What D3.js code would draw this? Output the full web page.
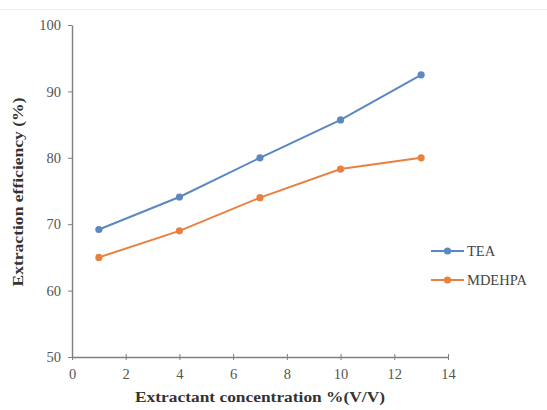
<!DOCTYPE html>
<html><head><meta charset="utf-8">
<script src="https://cdn.jsdelivr.net/npm/d3@7"></script>
<style>body{margin:0;background:#fff}svg{display:block}</style>
</head><body>
<script>
const xValues = [1, 4, 7, 10, 13];
const teaValues = [69.2, 74.1, 80.0, 85.7, 92.5];
const mdehpaValues = [65.0, 69.0, 74.0, 78.3, 80.0];
const seriesNames = ["TEA", "MDEHPA"];
const xTicks = [0, 2, 4, 6, 8, 10, 12, 14];
const yTicks = [50, 60, 70, 80, 90, 100];

const W = 547, H = 410;
const svg = d3.select("body").append("svg").attr("width", W).attr("height", H);
svg.append("line").attr("x1",0).attr("x2",W).attr("y1",9.5).attr("y2",9.5).attr("stroke","#efefef");

const x = d3.scaleLinear().domain([0,14]).range([72,448]);
const y = d3.scaleLinear().domain([50,100]).range([357,25]);
const font = "'Liberation Serif', 'Times New Roman', serif";

const xa = svg.append("g").attr("transform","translate(0,357)")
  .call(d3.axisBottom(x).tickValues(xTicks).tickSize(3).tickSizeOuter(0).tickPadding(9));
const ya = svg.append("g").attr("transform","translate(72,0)")
  .call(d3.axisLeft(y).tickValues(yTicks).tickSize(4).tickSizeOuter(0).tickPadding(7));
[xa, ya].forEach(a => {
  a.select(".domain").attr("stroke","#7f7f7f").attr("stroke-width",1.4);
  a.selectAll(".tick line").attr("stroke","#7f7f7f");
  a.selectAll(".tick text").attr("fill","#555").style("font-family",font).style("font-size","14.5px");
});
xa.selectAll(".tick line").attr("y1",-3);

svg.append("text").attr("x",260).attr("y",402).attr("text-anchor","middle")
  .attr("textLength",250).attr("lengthAdjust","spacingAndGlyphs")
  .style("font-family",font).style("font-size","14.5px").style("font-weight","bold").attr("fill","#333")
  .text("Extractant concentration %(V/V)");
svg.append("text").attr("transform","translate(23,192) rotate(-90)").attr("text-anchor","middle")
  .attr("textLength",189).attr("lengthAdjust","spacingAndGlyphs")
  .style("font-family",font).style("font-size","14.5px").style("font-weight","bold").attr("fill","#333")
  .text("Extraction efficiency (%)");

const colors = ["#5b87c3", "#e8813f"];
const data = [teaValues, mdehpaValues];
const line = d3.line().x((d,i)=>x(xValues[i])).y(d=>y(d));
data.forEach((vals, k) => {
  svg.append("path").datum(vals).attr("d", line).attr("fill","none")
    .attr("stroke", colors[k]).attr("stroke-width", 2);
  svg.selectAll(null).data(vals).enter().append("circle")
    .attr("cx",(d,i)=>x(xValues[i])).attr("cy",d=>y(d)).attr("r",3.6).attr("fill",colors[k]);
});

const legY = [251, 280];
seriesNames.forEach((n,k) => {
  svg.append("line").attr("x1",431).attr("x2",464).attr("y1",legY[k]).attr("y2",legY[k])
    .attr("stroke",colors[k]).attr("stroke-width",2);
  svg.append("circle").attr("cx",447.5).attr("cy",legY[k]).attr("r",3.6).attr("fill",colors[k]);
  svg.append("text").attr("x",467).attr("y",legY[k]).attr("dy","0.35em")
    .style("font-family",font).style("font-size","14.5px").attr("fill","#444").text(n);
});
</script>
</body></html>
